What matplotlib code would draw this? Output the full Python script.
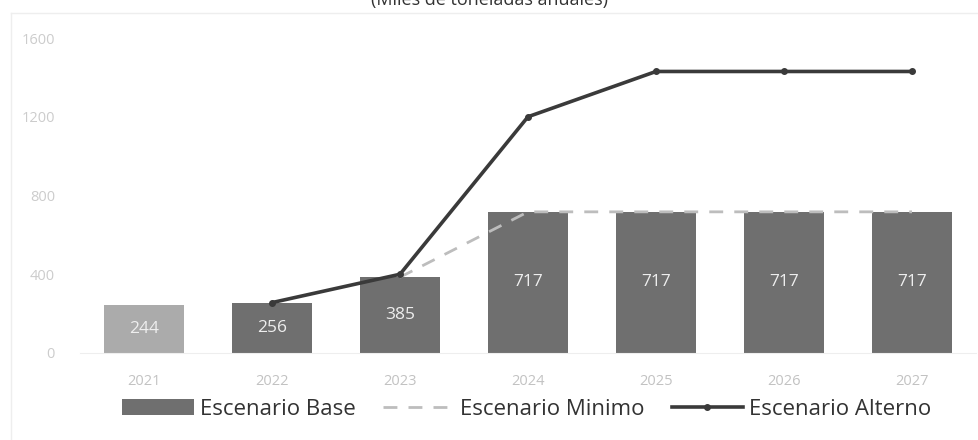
import matplotlib
matplotlib.use("Agg")
import matplotlib.pyplot as plt
import numpy as np
from matplotlib.lines import Line2D
from matplotlib.patches import Patch

years = ["2021", "2022", "2023", "2024", "2025", "2026", "2027"]
base = [244, 256, 385, 717, 717, 717, 717]
minimo = [np.nan, np.nan, 385, 717, 717, 717, 717]
alterno = [np.nan, 256, 400, 1200, 1430, 1430, 1430]
yticks = [0, 400, 800, 1200, 1600]

plt.rcParams['font.family'] = ['Open Sans', 'DejaVu Sans']

W, H = 979, 440
fig = plt.figure(figsize=(W / 100, H / 100), dpi=100)
ax = fig.add_axes([80 / W, 1 - 353 / H, (976 - 80) / W, (353 - 38) / H])

x = np.arange(len(years))
colors = ['#ababab'] + ['#6f6f6f'] * (len(years) - 1)
bars = ax.bar(x, base, width=0.62, color=colors, zorder=2)
for xi, v in zip(x, base):
    ax.text(xi, v / 2, str(v), ha='center', va='center', color='#eeeeee',
            fontsize=12.5, zorder=3)

ax.plot(x, minimo, linestyle=(0, (5, 4)), color='#bdbdbd', linewidth=2, zorder=3)
ax.plot(x, alterno, color='#3a3a3a', linewidth=2.6, marker='o', markersize=4,
        zorder=4)

ax.set_xlim(-0.5, len(years) - 0.5)
ax.set_ylim(0, 1600)
ax.set_yticks(yticks)
ax.set_yticklabels([str(t) for t in yticks])
ax.set_xticks(x)
ax.set_xticklabels(years)
ax.tick_params(axis='y', length=0, pad=18, labelsize=10.5, labelcolor='#cccccc')
ax.tick_params(axis='x', length=0, pad=15, labelsize=10.5, labelcolor='#c2c2c2')
for s in ['top', 'right', 'left']:
    ax.spines[s].set_visible(False)
ax.spines['bottom'].set_color('#eeeeee')

# faint frame
fig.add_artist(Line2D([11 / W, 11 / W], [0, 1 - 13 / H], color='#eeeeee', lw=1))
fig.add_artist(Line2D([11 / W, 1], [1 - 13 / H, 1 - 13 / H], color='#eeeeee', lw=1))

fig.text(490 / W, 1 - 0 / H, "(Miles de toneladas anuales)", ha='center',
         va='center', fontsize=13, color='#333333')

handles = [
    Patch(facecolor='#6f6f6f', label='Escenario Base'),
    Line2D([], [], linestyle=(0, (5, 4)), color='#bdbdbd', lw=2, label='Escenario Minimo'),
    Line2D([], [], color='#3a3a3a', lw=2.6, marker='o', markersize=4, label='Escenario Alterno'),
]
fig.legend(handles=handles, loc='center', bbox_to_anchor=(527 / W, 1 - 409 / H),
           ncol=3, frameon=False, fontsize=16, handlelength=3.2,
           handleheight=0.7, columnspacing=1.2, handletextpad=0.3,
           labelcolor='#333333')

fig.savefig('out.png', dpi=100)
